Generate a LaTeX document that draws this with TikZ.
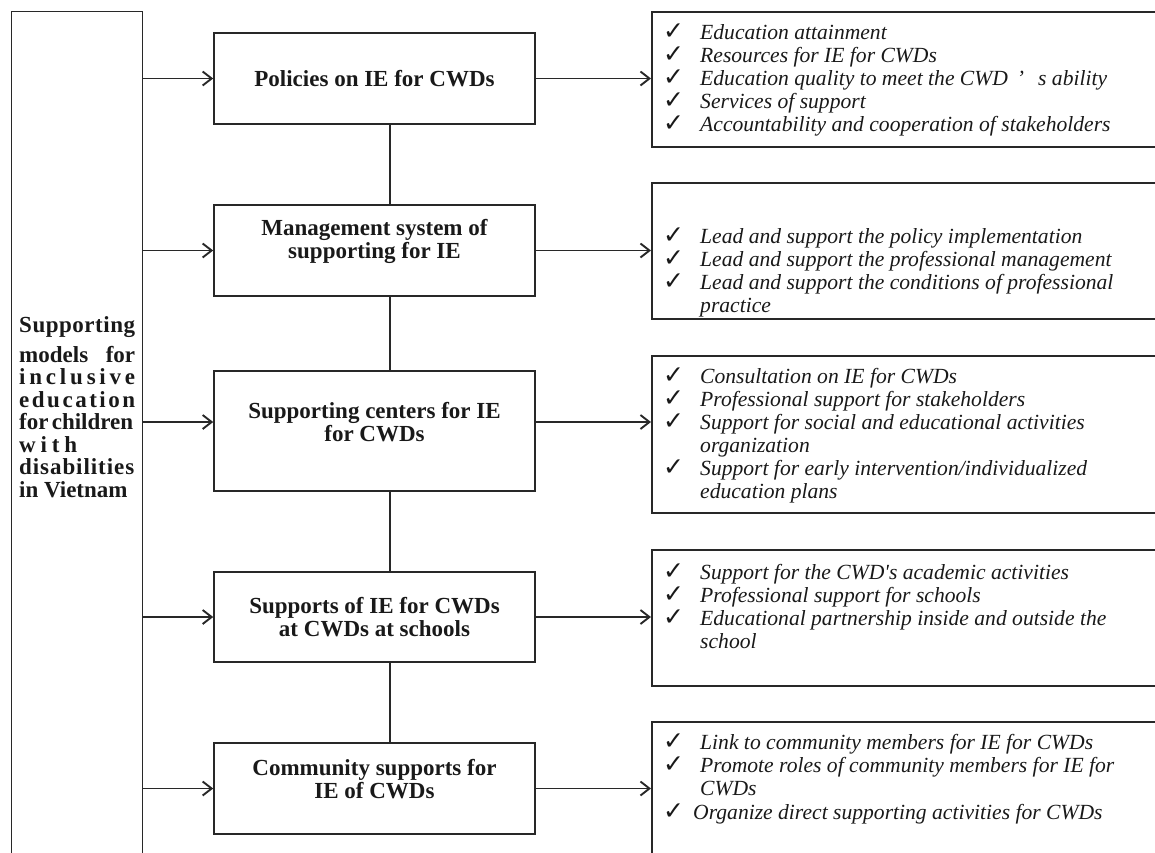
\documentclass[tikz,border=0pt]{standalone}
\usepackage{fontspec}
\setmainfont{Liberation Serif}
\newfontfamily\chkfont{DejaVu Sans}
\usetikzlibrary{arrows.meta, positioning, calc}
\definecolor{linecol}{RGB}{40, 40, 40}
\definecolor{textcol}{RGB}{25, 25, 25}
\newcommand{\chk}{\raisebox{0pt}[0pt][0pt]{\chkfont\fontsize{25}{25}\selectfont ✓}}
\newcommand{\itm}[1]{\makebox[37pt][l]{\chk}#1}
\newcommand{\cnt}[1]{\hspace*{37pt}#1}

\begin{document}
\begin{tikzpicture}[
    x=1pt, y=-1pt,
    sidebox/.style={draw=linecol, line width=1.4pt, anchor=north west, inner sep=0pt},
    sidetext/.style={font=\fontsize{23}{22.5}\selectfont\bfseries, text=textcol, align=left, anchor=base west, inner sep=0pt},
    mainbox/.style={draw=linecol, line width=1.6pt, minimum width=321pt, inner sep=0pt},
    boxtext/.style={font=\fontsize{23}{23}\selectfont\bfseries, text=textcol, align=center, inner sep=0pt},
    listbox/.style={draw=linecol, line width=1.6pt, anchor=north west, minimum width=520pt, inner sep=0pt},
    listtext/.style={font=\fontsize{21.6}{23}\selectfont\itshape, text=textcol, align=left, anchor=base west, inner sep=0pt},
    arrow/.style={-{Straight Barb[length=9pt, width=14pt, line width=1.9pt]}, line width=1.9pt, linecol},
    link/.style={draw=linecol, line width=1.5pt}
  ]
  \useasboundingbox (0,0) rectangle (1155,852);
  \clip (0,0) rectangle (1155,852);

  % Left column (base = last line)
  \node[sidebox, minimum width=131pt, minimum height=870pt] (side) at (11,11) {};
  \node[sidetext] (sidet) at (19,497) {%
    \makebox[116pt][s]{S\hfill u\hfill p\hfill p\hfill o\hfill r\hfill t\hfill i\hfill n\hfill g}\\[7.5pt]
    \makebox[116pt][s]{models\hfill for}\\
    \makebox[116pt][s]{i\hfill n\hfill c\hfill l\hfill u\hfill s\hfill i\hfill v\hfill e}\\
    \makebox[116pt][s]{e\hfill d\hfill u\hfill c\hfill a\hfill t\hfill i\hfill o\hfill n}\\
    \makebox[114pt][s]{for\hfill children}\\
    \makebox[58pt][s]{w\hfill i\hfill t\hfill h}\\
    \makebox[115pt][s]{d\hfill i\hfill s\hfill a\hfill b\hfill i\hfill l\hfill i\hfill t\hfill i\hfill e\hfill s}\\
    in Vietnam};

  % Middle boxes
  \node[mainbox, minimum height=91pt] (pol) at (374.5,78.5) {};
  \node[mainbox, minimum height=91pt] (mgt) at (374.5,250.5) {};
  \node[mainbox, minimum height=120pt] (ctr) at (374.5,431) {};
  \node[mainbox, minimum height=90pt] (sch) at (374.5,617) {};
  \node[mainbox, minimum height=91pt] (com) at (374.5,788.5) {};

  \node[boxtext] (polt) at (374.5,79) {Policies on IE for CWDs};
  \node[boxtext] (mgtt) at (374.5,241.5) {Management system of\\supporting for IE};
  \node[boxtext] (ctrt) at (374.5,422) {Supporting centers for IE\\for CWDs};
  \node[boxtext] (scht) at (374.5,617) {Supports of IE for CWDs\\at CWDs at schools};
  \node[boxtext] (comt) at (374.5,779) {Community supports for\\IE of CWDs};

  % Right boxes
  \node[listbox, minimum height=135pt] (rpol) at (651,11) {};
  \node[listbox, minimum height=136pt] (rmgt) at (651,182) {};
  \node[listbox, minimum height=157pt] (rctr) at (651,355) {};
  \node[listbox, minimum height=136pt] (rsch) at (651,549) {};
  \node[listbox, minimum height=160pt] (rcom) at (651,721) {};

  % Lists (base = last line)
  \node[listtext] (rpolt) at (663,131) {%
    \itm{Education attainment}\\
    \itm{Resources for IE for CWDs}\\
    \itm{Education quality to meet the CWD\hspace{9pt}’\hspace{14pt}s ability}\\
    \itm{Services of support}\\
    \itm{Accountability and cooperation of stakeholders}};
  \node[listtext] (rmgtt) at (663,312) {%
    \itm{Lead and support the policy implementation}\\
    \itm{Lead and support the professional management}\\
    \itm{Lead and support the conditions of professional}\\
    \cnt{practice}};
  \node[listtext] (rctrt) at (663,498) {%
    \itm{Consultation on IE for CWDs}\\
    \itm{Professional support for stakeholders}\\
    \itm{Support for social and educational activities}\\
    \cnt{organization}\\
    \itm{Support for early intervention/individualized}\\
    \cnt{education plans}};
  \node[listtext] (rscht) at (663,648) {%
    \itm{Support for the CWD\textquotesingle s academic activities}\\
    \itm{Professional support for schools}\\
    \itm{Educational partnership inside and outside the}\\
    \cnt{school}};
  \node[listtext] (rcomt) at (663,819) {%
    \itm{Link to community members for IE for CWDs}\\
    \itm{Promote roles of community members for IE for}\\
    \cnt{CWDs}\\[1pt]
    \makebox[30pt][l]{\chk}Organize direct supporting activities for CWDs};

  % Spine between middle boxes
  \coordinate (spine) at (390,0);
  \foreach \a/\b in {pol/mgt, mgt/ctr, ctr/sch, sch/com}
    \draw[link] (\a.south -| spine) -- (\b.north -| spine);

  % Arrows
  \foreach \m in {pol, mgt, sch, com}
    \draw[arrow] (side.east |- \m) -- (\m.west);
  \draw[arrow] (side.east |- ctrt) -- (ctr.west |- ctrt);

  \draw[arrow] (pol.east) -- (rpol.west |- pol.east);
  \draw[arrow] (mgt.east) -- (rmgt.west |- mgt.east);
  \draw[arrow] (ctr.east |- ctrt) -- (rctr.west |- ctrt);
  \draw[arrow] (sch.east) -- (rsch.west |- sch.east);
  \draw[arrow] (com.east) -- (rcom.west |- com.east);
\end{tikzpicture}
\end{document}
